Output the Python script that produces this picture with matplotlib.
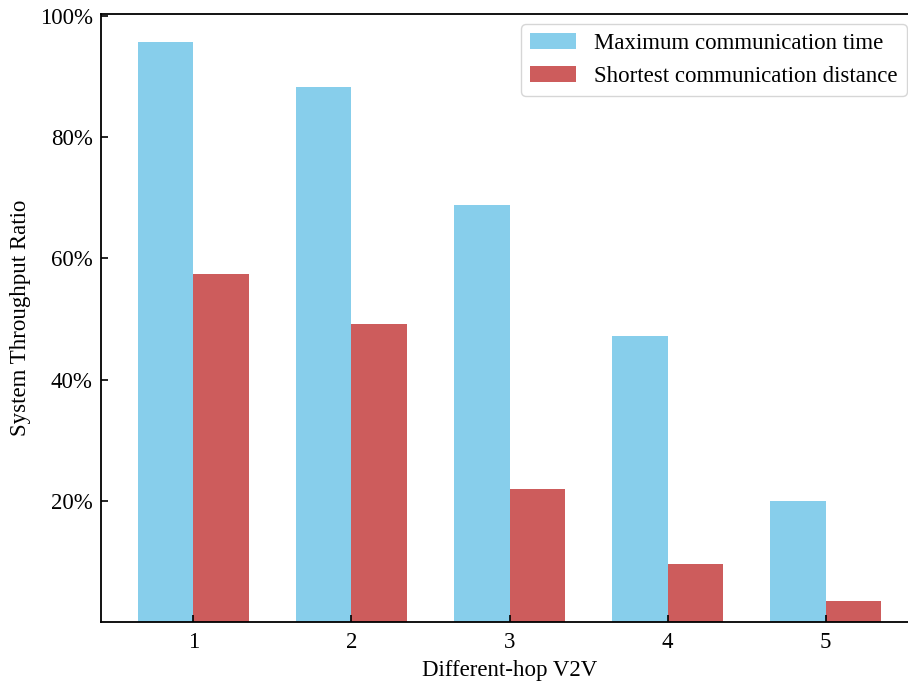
import matplotlib
matplotlib.use('Agg')
import numpy             as np
import matplotlib.pyplot as plt
import matplotlib.ticker as mticker

# --------------------------------
hops      = [1, 2, 3, 4, 5]
max_time  = [95.6, 88.2, 68.8, 47.1, 19.9]
min_dist  = [57.4, 49.1, 21.9,  9.5,  3.5]
labels    = ['Maximum communication time', 'Shortest communication distance']
# --------------------------------
def main():
    '''
    Start here
    '''
    plt.rcParams['font.family'] = ['Liberation Serif', 'DejaVu Serif']
    plt.rcParams['font.size']   = 16.5

    fig = plt.figure(figsize=(9.08, 6.82), dpi=100)
    ax  = fig.add_axes([101 / 908, 60 / 682, 817 / 908, 608 / 682])

    x     = np.array(hops)
    width = 0.35
    ax.bar(x - width / 2, np.array(max_time) / 100, width, color='skyblue'  , label=labels[0])
    ax.bar(x + width / 2, np.array(min_dist) / 100, width, color='indianred', label=labels[1])

    ax.set_xticks(hops)
    ax.set_yticks([0.2, 0.4, 0.6, 0.8, 1.0])
    ax.yaxis.set_major_formatter(mticker.PercentFormatter(1.0, decimals=0))
    ax.set_ylim(0, 1.003)
    ax.tick_params(direction='in', length=5, width=1.2, labelsize=16.5)
    ax.tick_params(axis='x', pad=7)
    ax.tick_params(axis='y', pad=6)

    for side in ['left', 'bottom', 'top', 'right']:
        ax.spines[side].set_linewidth(1.3)

    ax.set_xlabel('Different-hop V2V', fontsize=16.5, labelpad=5)
    ax.set_ylabel('System Throughput Ratio', fontsize=16.5, labelpad=6)

    leg = ax.legend(loc='upper right', bbox_to_anchor=(907 / 908, 1 - 24 / 682),
                    bbox_transform=fig.transFigure, borderaxespad=0, fontsize=16.5,
                    handlelength=2.0, labelspacing=0.5, frameon=True, fancybox=True)
    leg.get_frame().set_edgecolor('#cccccc')

    fig.savefig('out.png', dpi=100)
    plt.close(fig)
# --------------------------------
if __name__ == '__main__':
    main()
